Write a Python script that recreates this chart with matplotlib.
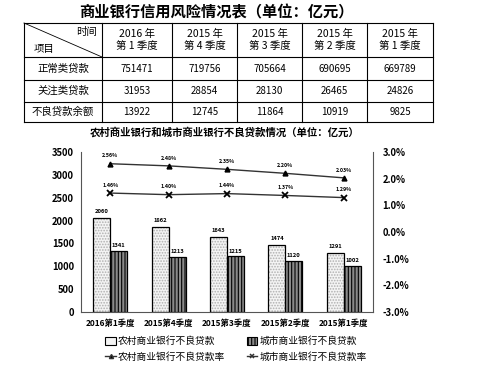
import numpy as np
import matplotlib
matplotlib.use("Agg")
import matplotlib.pyplot as plt
from matplotlib.patches import Patch
from matplotlib.lines import Line2D

plt.rcParams['font.family'] = ['Noto Sans CJK SC', 'DejaVu Sans']
plt.rcParams['hatch.linewidth'] = 0.8

# Table data
table_title = "商业银行信用风险情况表（单位：亿元）"
col_headers = ["2016 年\n第 1 季度", "2015 年\n第 4 季度", "2015 年\n第 3 季度",
               "2015 年\n第 2 季度", "2015 年\n第 1 季度"]
row_headers = ["正常类贷款", "关注类贷款", "不良贷款余额"]
normal_loans = [751471, 719756, 705664, 690695, 669789]
attention_loans = [31953, 28854, 28130, 26465, 24826]
bad_balance = [13922, 12745, 11864, 10919, 9825]

# Chart data
chart_title = "农村商业银行和城市商业银行不良贷款情况（单位：亿元）"
quarters = ["2016第1季度", "2015第4季度", "2015第3季度", "2015第2季度", "2015第1季度"]
rural_bad = [2060, 1862, 1643, 1474, 1291]
urban_bad = [1341, 1213, 1215, 1120, 1002]
rural_rate = [2.56, 2.48, 2.35, 2.20, 2.03]
urban_rate = [1.46, 1.40, 1.44, 1.37, 1.29]

W, H = 485, 375
fig = plt.figure(figsize=(W / 100, H / 100), dpi=100)


def fig_rect(x0, y0, x1, y1):
    return [x0 / W, 1 - y1 / H, (x1 - x0) / W, (y1 - y0) / H]


fig.text(216 / W, 1 - 12 / H, table_title, ha="center", va="center",
         fontsize=11, fontweight="bold")

# ---- table ----
col_edges = [24, 102, 172, 237, 302, 367, 433]
row_edges = [23, 57, 80, 102, 122]
tax = fig.add_axes([0, 0, 1, 1])
tax.set_xlim(0, W)
tax.set_ylim(H, 0)
tax.axis("off")
for xe in col_edges:
    tax.plot([xe, xe], [row_edges[0], row_edges[-1]], color="black", lw=0.8)
for ye in row_edges:
    tax.plot([col_edges[0], col_edges[-1]], [ye, ye], color="black", lw=0.8)
tax.plot([col_edges[0], col_edges[1]], [row_edges[0], row_edges[1]], color="black", lw=0.6)
tax.text(col_edges[1] - 5, row_edges[0] + 9, "时间", ha="right", va="center", fontsize=7.5)
tax.text(col_edges[0] + 10, row_edges[1] - 8, "项目", ha="left", va="center", fontsize=7.5)
for j, h in enumerate(col_headers):
    cx = (col_edges[j + 1] + col_edges[j + 2]) / 2
    tax.text(cx, (row_edges[0] + row_edges[1]) / 2, h, ha="center", va="center",
             fontsize=7.5, linespacing=1.15)
rows = [normal_loans, attention_loans, bad_balance]
for i, (name, vals) in enumerate(zip(row_headers, rows)):
    cy = (row_edges[i + 1] + row_edges[i + 2]) / 2
    tax.text((col_edges[0] + col_edges[1]) / 2, cy, name, ha="center", va="center", fontsize=7.5)
    for j, v in enumerate(vals):
        cx = (col_edges[j + 1] + col_edges[j + 2]) / 2
        tax.text(cx, cy, str(v), ha="center", va="center", fontsize=7)

# ---- chart ----
fig.text(225 / W, 1 - 132 / H, chart_title, ha="center", va="center",
         fontsize=7.5, fontweight="bold")

ax = fig.add_axes(fig_rect(81, 152, 373, 312))
x = np.arange(len(quarters))
bw = 0.29
# rural bars: light dotted fill, then black outline
ax.bar(x - bw / 2, rural_bad, bw, facecolor="#f4f4f4", edgecolor="#b0b0b0",
       hatch="......", lw=0)
ax.bar(x - bw / 2, rural_bad, bw, facecolor="none", edgecolor="black", lw=0.9)
ax.bar(x + bw / 2, urban_bad, bw, facecolor="#8a8a8a", edgecolor="black",
       hatch="|||||", lw=0.9)
for xi, v in zip(x - bw / 2, rural_bad):
    ax.text(xi, v + 90, str(v), ha="center", va="bottom", fontsize=4.2, fontweight="bold")
for xi, v in zip(x + bw / 2, urban_bad):
    ax.text(xi, v + 60, str(v), ha="center", va="bottom", fontsize=4.2, fontweight="bold")

ax.set_xlim(-0.5, len(quarters) - 0.5)
ax.set_ylim(0, 3500)
ax.set_yticks(np.arange(0, 3501, 500))
ax.set_xticks(x)
ax.set_xticklabels(quarters, fontsize=6, fontweight="bold")
ax.tick_params(axis="both", length=0, pad=5)
for lbl in ax.get_yticklabels():
    lbl.set_fontweight("bold")
    lbl.set_fontsize(6.8)
ax.spines["top"].set_visible(False)
ax.spines["right"].set_visible(False)
for s in ["left", "bottom"]:
    ax.spines[s].set_color("#555555")

ax2 = ax.twinx()
ax2.plot(x, rural_rate, color="#333333", lw=1, marker="^", ms=3.5, mfc="black", mec="black")
ax2.plot(x, urban_rate, color="#333333", lw=1, marker="x", ms=4, mew=1.3, mec="black")
for xi, v in zip(x, rural_rate):
    ax2.text(xi, v + 0.2, f"{v:.2f}%", ha="center", va="bottom", fontsize=3.8, fontweight="bold")
for xi, v in zip(x, urban_rate):
    ax2.text(xi, v + 0.2, f"{v:.2f}%", ha="center", va="bottom", fontsize=3.8, fontweight="bold")
ax2.set_ylim(-3, 3)
ax2.set_yticks(np.arange(-3, 3.1, 1))
ax2.set_yticklabels([f"{t:.1f}%" for t in np.arange(-3, 3.1, 1)], fontsize=6.8, fontweight="bold")
ax2.tick_params(axis="y", length=0, pad=7)
ax2.spines["top"].set_visible(False)
ax2.spines["left"].set_visible(False)
ax2.spines["bottom"].set_visible(False)
ax2.spines["right"].set_color("#555555")

handles = [
    Patch(facecolor="#f4f4f4", edgecolor="black", lw=0.8),
    Line2D([], [], color="#333333", marker="^", ms=3, mfc="black", lw=1),
    Patch(facecolor="#8a8a8a", edgecolor="black", hatch="|||||", lw=0.8),
    Line2D([], [], color="#333333", marker="x", ms=3.5, mew=1.1, lw=1),
]
labels = ["农村商业银行不良贷款", "农村商业银行不良贷款率",
          "城市商业银行不良贷款", "城市商业银行不良贷款率"]
fig.legend(handles, labels, ncol=2, loc="center", bbox_to_anchor=(236 / W, 1 - 349 / H),
           frameon=False, fontsize=7, handlelength=1.1, handleheight=0.8, handletextpad=0.2,
           columnspacing=2.2, labelspacing=0.55)

fig.savefig("out.png", dpi=100)
